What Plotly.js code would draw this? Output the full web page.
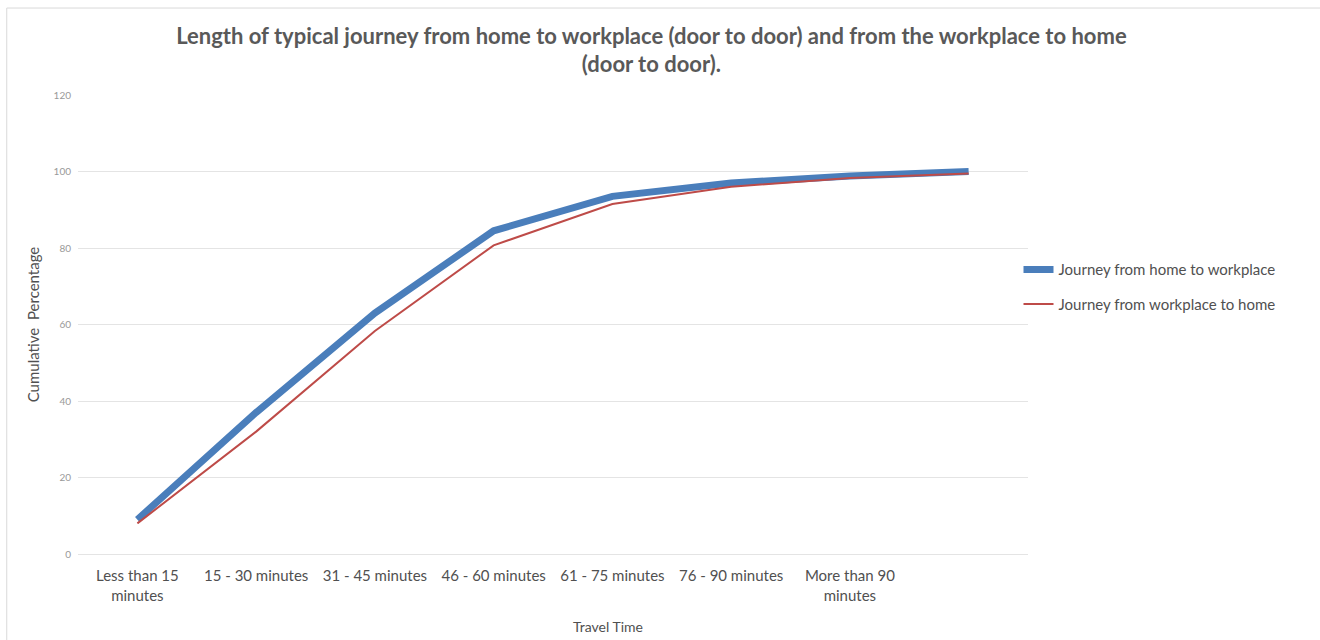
<!DOCTYPE html>
<html>
<head>
<meta charset="utf-8">
<script src="https://cdn.plot.ly/plotly-3.0.1.min.js"></script>
<style>
html,body{margin:0;padding:0;background:#fff;}
#chart{width:1320px;height:640px;}
</style>
</head>
<body>
<div id="chart"></div>
<script>
const categories = ["Less than 15<br>minutes", "15 - 30 minutes", "31 - 45 minutes", "46 - 60 minutes", "61 - 75 minutes", "76 - 90 minutes", "More than 90<br>minutes", ""];
const homeToWork = [9, 37, 63, 84.5, 93.5, 97, 98.8, 100];
const workToHome = [8, 32, 58.3, 80.7, 91.5, 96, 98.3, 99.5];
const seriesNames = ["Journey from home to workplace", "Journey from workplace to home"];
const xTitle = "Travel Time";

const xIdx = categories.map((c, i) => i);
const font = "Lato, 'Open Sans', sans-serif";

const traces = [
  {x: xIdx, y: homeToWork, type: "scatter", mode: "lines", name: seriesNames[0],
   line: {color: "#4a7ebb", width: 7}, legendgroup: "a", hoverinfo: "y"},
  {x: xIdx, y: workToHome, type: "scatter", mode: "lines", name: seriesNames[1],
   line: {color: "#be4b48", width: 2}, legendgroup: "b", hoverinfo: "y"}
];

const layout = {
  width: 1320, height: 640,
  margin: {l: 78, r: 292, t: 95, b: 86},
  paper_bgcolor: "#ffffff", plot_bgcolor: "#ffffff",
  title: {
    text: "Length of typical journey from home to workplace (door to door) and from the workplace to home<br>(door to door).",
    font: {family: font, size: 22, color: "#595959", weight: "bold"},
    x: 0.4935, xanchor: "center", y: 0.932, yanchor: "top"
  },
  xaxis: {
    range: [-0.5, 7.5],
    tickmode: "array", tickvals: xIdx, ticktext: categories,
    showgrid: false, zeroline: false, showline: false, ticks: "",
    ticklabelstandoff: 11,
    tickfont: {family: font, size: 15, color: "#505050"}
  },
  yaxis: {
    range: [0, 120], tickvals: [0, 20, 40, 60, 80, 100, 120],
    showgrid: true, gridcolor: "#e4e4e4", gridwidth: 1,
    zeroline: true, zerolinecolor: "#e4e4e4", zerolinewidth: 1,
    showline: false, ticks: "",
    tickfont: {family: font, size: 10, color: "#999999"},
    ticklabelstandoff: 6,
    title: {text: "Cumulative&nbsp; Percentage", font: {family: font, size: 15, color: "#505050"}, standoff: 10}
  },
  annotations: [
    {text: xTitle, xref: "paper", yref: "paper", x: 0.558, y: -0.157, xanchor: "center", yanchor: "middle",
     showarrow: false, font: {family: font, size: 14, color: "#505050"}}
  ],
  showlegend: true,
  legend: {
    x: 0.99, xanchor: "left", y: 0.582, yanchor: "middle",
    font: {family: font, size: 15, color: "#505050"},
    tracegroupgap: 12, traceorder: "grouped",
    bgcolor: "rgba(0,0,0,0)"
  },
  shapes: [
    {type: "line", xref: "paper", yref: "paper", x0: -0.075, x1: 1.31, y0: 1.1895, y1: 1.1895,
     line: {color: "#d9d9d9", width: 1}},
    {type: "line", xref: "paper", yref: "paper", x0: -0.075, x1: -0.075, y0: -0.19, y1: 1.1895,
     line: {color: "#d9d9d9", width: 1}}
  ]
};

Plotly.newPlot("chart", traces, layout, {displayModeBar: false, responsive: false});
</script>
</body>
</html>
